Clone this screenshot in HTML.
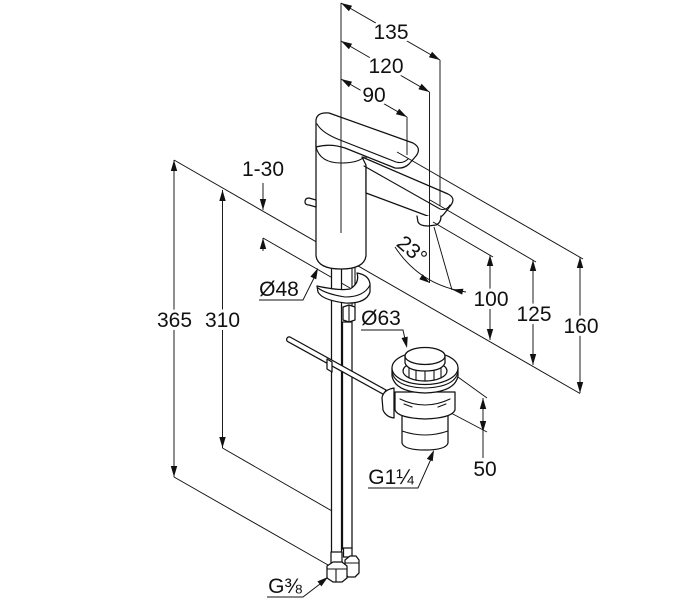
<!DOCTYPE html>
<html><head><meta charset="utf-8"><style>
html,body{margin:0;padding:0;background:#fff;}
svg{display:block}
text{font-family:"Liberation Sans",Arial,sans-serif;font-size:21px;fill:#111;}
.l{stroke:#111;stroke-width:0.95;fill:none;}
.o{stroke:#111;stroke-width:1.25;fill:#fff;stroke-linejoin:round;stroke-linecap:round}
.n{stroke:#111;stroke-width:1.1;fill:none;stroke-linejoin:round;stroke-linecap:round}
.a{fill:#111;stroke:none}
.bg{paint-order:stroke;stroke:#fff;stroke-width:6px;stroke-linejoin:round}
</style></head><body>
<svg width="700" height="600" viewBox="0 0 700 600" xmlns="http://www.w3.org/2000/svg">
<!-- background extension lines -->
<g class="l">
<line x1="174" y1="160" x2="316" y2="241.7"/>
<line x1="357" y1="265.3" x2="580" y2="393.5"/>
<line x1="263" y1="238" x2="350" y2="288"/>
<line x1="174" y1="477" x2="328" y2="565"/>
<line x1="222.5" y1="448" x2="332" y2="511"/>
<line x1="451" y1="372" x2="487" y2="398"/>
<line x1="451" y1="413" x2="487" y2="432"/>
</g>

<!-- hoses -->
<path class="o" d="M342.5,322 L342.5,549 L352,549 L352,322 Z"/>
<path class="o" d="M331.5,266 L331.5,553 L341.5,553 L341.5,266 Z"/>
<line class="n" x1="352" y1="268" x2="352" y2="306"/>
<line class="n" x1="355" y1="268" x2="355" y2="306"/>
<path class="o" d="M343,307 L349,305 L355,307 L355,320 L349,322 L343,320 Z"/>
<line class="n" x1="349" y1="305" x2="349" y2="322"/>

<!-- bottom nuts -->
<path class="o" d="M343.5,548 L343.5,557 L352,557 L352,548 Z"/>
<path class="o" d="M345,560 L350,556 L356,556 L359,560 L359,573 L355,577 L348,577 L345,573 Z"/>
<line class="n" x1="345" y1="563" x2="359" y2="563"/>
<path class="o" d="M331,552 L331,563 L342,563 L342,552 Z"/>
<path class="o" d="M327,566 L333,562 L342,562 L347,566 L347,578 L342,582 L333,582 L327,578 Z"/>
<line class="n" x1="327" y1="569" x2="347" y2="569"/>
<line class="n" x1="336" y1="569" x2="336" y2="582"/>

<!-- pop-up rod -->
<path class="o" d="M386,390 L290,337 A2.6,2.6 0 0 0 287.5,341.4 L383.5,394.4 Z"/>
<path class="o" d="M327,359 L332,362 L332,372 L327,369 Z"/>

<!-- bracket -->
<path class="o" d="M317,286 L318,292 Q322,300 345,303 Q366,304 370,292 L370,284 Q369,275 357,273 Q360,283 350,289 Q340,291 317,286 Z"/>
<path class="n" d="M318,288 Q326,294 345,297 Q364,297 370,285"/>

<!-- body -->
<path class="o" d="M316,140 L316,256 Q318,269 341,269 Q364,269 366,256 L366,150 Z"/>
<!-- lift pin -->
<path class="o" d="M316,200 L309,198 Q305,198 305,202 Q305,205 309,205 L316,207 Z"/>
<!-- spout -->
<path class="o" d="M362,157 L448,194 Q456,198 451,205 L444,214 Q440,219 433,218 L366,193 L366,165 Z"/>
<path class="n" d="M364,166 L440,209 Q446,211 450,205"/>
<path class="o" d="M417,216 L418,222 Q420,226 428,226 L436,225 Q441,223 441,216"/>
<!-- handle -->
<path class="o" d="M316,147 L316,120 Q317,112 329,113 L413,143 Q422,148 416,156 L409,164 Q404,169 395,168 L345,148 Q330,143 316,147 Z"/>
<path class="n" d="M317,124 Q322,133 340,140 L396,162 Q403,164 408,159"/>
<path class="n" d="M316,147 Q320,163 341,163 Q358,163 364,157"/>

<!-- drain -->
<path class="o" d="M402,412 L402,443 Q404,450 425,450 Q446,450 448,443 L448,412 Z"/>
<path class="n" d="M402,431 Q425,439 448,431"/>
<path class="o" d="M395,392 L395,410 Q398,418 425,419 Q452,418 455,410 L455,392 Z"/>
<path class="n" d="M400,399 Q425,411 450,399"/>
<path class="n" d="M404,404 L412,407 M438,407 L446,404"/>
<path class="o" d="M392,368 L392,376 Q395,392 425,393 Q455,392 458,376 L458,368 Z"/>
<path class="n" d="M392,372 Q395,387 425,388 Q455,387 458,372"/>
<ellipse class="o" cx="425" cy="368" rx="33" ry="16.5"/>
<ellipse class="o" cx="425" cy="371" rx="22" ry="10"/>
<g class="n">
<line x1="409" y1="366" x2="409" y2="378"/>
<line x1="416" y1="368" x2="416" y2="380"/>
<line x1="425" y1="369" x2="425" y2="381"/>
<line x1="434" y1="368" x2="434" y2="380"/>
<line x1="441" y1="366" x2="441" y2="378"/>
</g>
<path class="o" d="M405,356 L405,363 Q408,371 425,371 Q442,371 445,363 L445,356 Z"/>
<ellipse class="o" cx="425" cy="356" rx="20" ry="8.5"/>
<path class="o" d="M394,388 Q383,390 382,398 L383,410 Q386,417 394,418 Z"/>

<!-- overlay dimension/extension lines -->
<g class="l">
<line x1="341" y1="3" x2="341" y2="233"/>
<line x1="440" y1="60" x2="440" y2="206"/>
<line x1="429.5" y1="92" x2="429.5" y2="283"/>
<line x1="407" y1="117" x2="407" y2="155"/>
<line x1="341" y1="3" x2="440" y2="60"/>
<line x1="341" y1="41" x2="429.5" y2="92"/>
<line x1="341" y1="79" x2="407" y2="117"/>
<line x1="397" y1="152" x2="583" y2="259"/>
<line x1="430" y1="200" x2="536" y2="262"/>
<line x1="433" y1="222" x2="493" y2="257"/>
<line x1="174" y1="160" x2="174" y2="477"/>
<line x1="222.5" y1="190" x2="222.5" y2="448"/>
<line x1="263" y1="183" x2="263" y2="210"/>
<line x1="263" y1="238" x2="263" y2="251"/>
<line x1="580" y1="257" x2="580" y2="393"/>
<line x1="533" y1="260" x2="533" y2="365"/>
<line x1="490" y1="255" x2="490" y2="340"/>
<line x1="483" y1="398" x2="483" y2="458"/>
<line x1="434" y1="227" x2="452" y2="290"/>
<path d="M395,247 Q420,285 466,292"/>
<polyline points="259,300 303,300 316,274"/>
<polyline points="361,330 403,330 405,339"/>
<polyline points="368,488 418,488 431,459"/>
<polyline points="267,597 303,597 320,584"/>
</g>

<!-- arrowheads -->
<g class="a">
<polygon points="341,3 352.1,5.7 348.9,11.3"/>
<polygon points="440,60 432.1,51.7 428.9,57.3"/>
<polygon points="341,41 352.1,43.7 348.9,49.3"/>
<polygon points="429.5,92 421.6,83.7 418.4,89.3"/>
<polygon points="341,79 352.1,81.7 348.9,87.3"/>
<polygon points="407,117 399.1,108.7 395.9,114.3"/>
<polygon points="174,160 170.8,171 177.2,171"/>
<polygon points="174,477 170.8,466 177.2,466"/>
<polygon points="222.5,190 219.3,201 225.7,201"/>
<polygon points="222.5,448 219.3,437 225.7,437"/>
<polygon points="263,210 259.8,199 266.2,199"/>
<polygon points="263,238 259.8,249 266.2,249"/>
<polygon points="580,257 576.8,268 583.2,268"/>
<polygon points="580,393 576.8,382 583.2,382"/>
<polygon points="533,260 529.8,271 536.2,271"/>
<polygon points="533,365 529.8,354 536.2,354"/>
<polygon points="490,255 486.8,266 493.2,266"/>
<polygon points="490,340 486.8,329 493.2,329"/>
<polygon points="483,398 479.8,409 486.2,409"/>
<polygon points="483,432 479.8,421 486.2,421"/>
<polygon points="318,268 316.2,279.4 310.4,276.6"/>
<polygon points="407,348 407.7,336.6 401.5,338"/>
<polygon points="434,450 432.7,461.3 426.8,458.9"/>
<polygon points="328,577 321.4,586.4 317.4,581.4"/>
<polygon points="430,283 422.7,274.2 419.3,279.2"/>
<polygon points="452,289.5 463.4,288.8 462.2,294.6"/>
</g>

<!-- labels -->
<g text-anchor="middle">
<text class="bg" x="391" y="39">135</text>
<text class="bg" x="386" y="73">120</text>
<text class="bg" x="374" y="102">90</text>
<text class="bg" x="263" y="176">1-30</text>
<text class="bg" x="174.5" y="327">365</text>
<text class="bg" x="222.5" y="327">310</text>
<text class="bg" x="491" y="306">100</text>
<text class="bg" x="534" y="321">125</text>
<text class="bg" x="581" y="333">160</text>
<text class="bg" x="485" y="476">50</text>
<text x="279" y="296">Ø48</text>
<text x="381" y="325">Ø63</text>
<text x="391" y="484">G1¼</text>
<text x="285" y="593">G⅜</text>
<text transform="translate(412,250) rotate(40)" x="0" y="7">23°</text>
</g>
</svg>
</body></html>
